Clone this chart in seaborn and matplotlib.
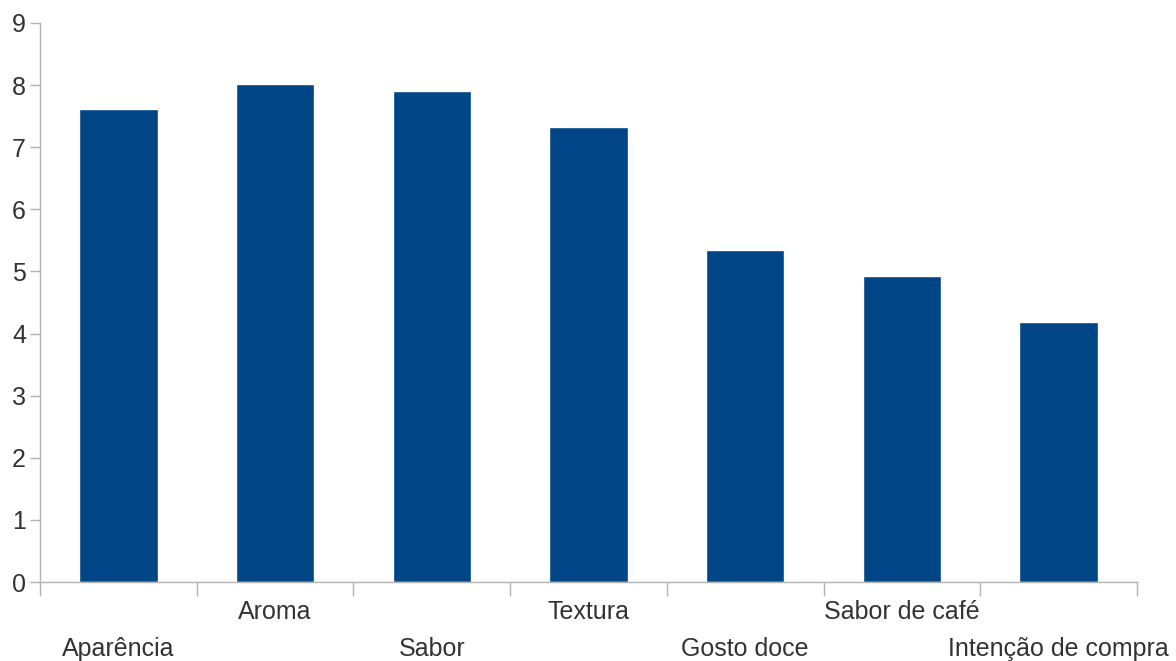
import matplotlib
matplotlib.use("Agg")
import matplotlib.pyplot as plt
import seaborn as sns
import numpy as np
import pandas as pd
from matplotlib.transforms import offset_copy

categories = ["Aparência", "Aroma", "Sabor", "Textura", "Gosto doce", "Sabor de café", "Intenção de compra"]
values = [7.61, 8.02, 7.91, 7.33, 5.35, 4.93, 4.19]
yticks = [0, 1, 2, 3, 4, 5, 6, 7, 8, 9]

sns.set_style("white")
plt.rcParams['font.family'] = ['Liberation Sans', 'DejaVu Sans']

df = pd.DataFrame({"cat": categories, "val": values})

fig = plt.figure(figsize=(11.76, 6.61), dpi=100)
ax = fig.add_axes([40/1176, 79/661, (1137-40)/1176, (582-23)/661])

sns.barplot(data=df, x="cat", y="val", color="#004586", width=0.5, saturation=1, ax=ax)

grey = "#b3b3b3"
txt = "#333333"
ax.set_xlim(-0.5, len(categories) - 0.5)
ax.set_ylim(0, 9)
ax.set_yticks(yticks)
ax.set_yticklabels([str(t) for t in yticks], fontsize=18, color=txt)
ax.tick_params(axis="y", length=7, color=grey, width=1, pad=3, left=True)

ax.set_xticks(np.arange(-0.5, len(categories)), minor=False)
ax.set_xticklabels([])
ax.tick_params(axis="x", which="major", length=10, color=grey, width=1, bottom=True)
ax.set_xlabel("")
ax.set_ylabel("")

for s in ["top", "right"]:
    ax.spines[s].set_visible(False)
for s in ["left", "bottom"]:
    ax.spines[s].set_color(grey)
    ax.spines[s].set_linewidth(1)

tr = ax.get_xaxis_transform()
for i, lab in enumerate(categories):
    dy = -30 if i % 2 == 1 else -67
    t = offset_copy(tr, fig=fig, x=0, y=dy, units="dots")
    ax.text(i, 0, lab, transform=t, ha="center", va="center", fontsize=18, color=txt)

fig.savefig("out.png", dpi=100)
